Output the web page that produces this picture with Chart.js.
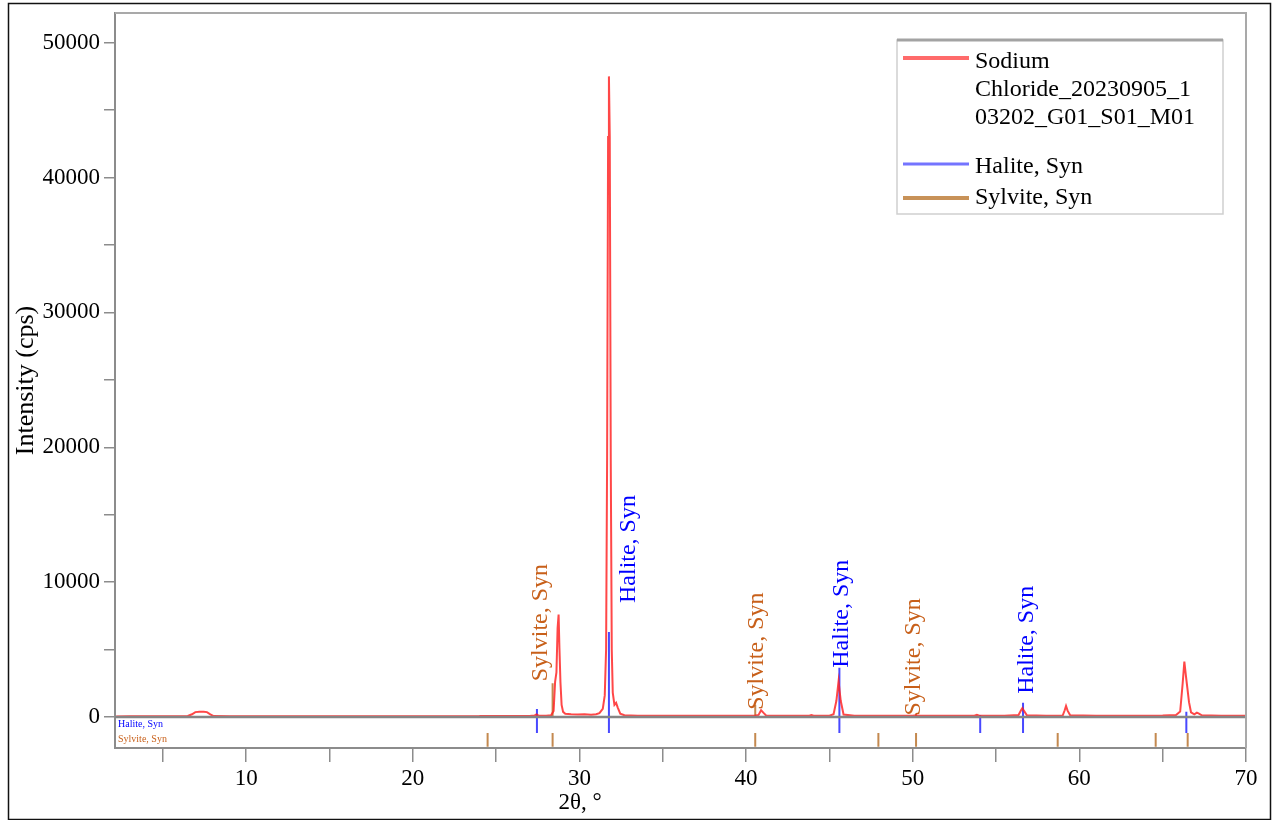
<!DOCTYPE html>
<html>
<head>
<meta charset="utf-8">
<script src="https://cdn.jsdelivr.net/npm/chart.js@4.4.0/dist/chart.umd.min.js"></script>
<style>
  body { margin: 0; background: #fff; }
  canvas { display: block; }
</style>
</head>
<body>
<canvas id="xrd" width="1273" height="820"></canvas>
<script>
"use strict"

// Measured pattern: 2θ (°) and intensity (cps)
const twoTheta = [
    2.2, 3.0, 4.0, 5.0, 6.0, 6.5, 6.75, 6.95, 7.2, 7.45, 7.65, 7.85, 8.05, 9.0, 10.0,
    12.0, 14.0, 16.0, 18.0, 20.0, 22.0, 24.0, 24.5, 25.0, 26.0, 27.0, 27.3, 27.42, 27.55,
    28.0, 28.3, 28.45, 28.54, 28.62, 28.69, 28.75, 28.8, 28.86, 28.93, 29.02, 29.15,
    29.5, 29.9, 30.3, 30.7, 31.0, 31.2, 31.4, 31.52, 31.6, 31.66, 31.72, 31.77, 31.82,
    31.88, 31.94, 32.0, 32.1, 32.2, 32.3, 32.45, 32.7, 33.5, 35.0, 37.0, 39.0, 40.5,
    40.75, 40.9, 41.05, 41.2, 42.0, 43.8, 43.92, 44.05, 45.0, 45.25, 45.42, 45.55, 45.68,
    45.85, 46.5, 48.0, 50.0, 50.2, 50.4, 52.0, 53.7, 53.85, 54.0, 55.5, 56.35, 56.5,
    56.58, 56.68, 56.85, 58.0, 59.0, 59.12, 59.2, 59.3, 59.45, 61.0, 63.0, 65.0, 65.8,
    66.05, 66.2, 66.3, 66.4, 66.48, 66.58, 66.7, 66.9, 67.05, 67.15, 67.35, 68.5, 70.0
];
const intensity = [
    40, 50, 45, 50, 55, 70, 200, 360, 390, 380, 360, 200, 70, 55, 50,
    55, 50, 55, 60, 55, 60, 65, 80, 65, 70, 80, 110, 200, 110,
    90, 120, 450, 2600, 3300, 6600, 7600, 5100, 2600, 900, 380, 240,
    200, 180, 210, 170, 200, 280, 600, 1600, 5000, 19000, 43000, 47500, 43000,
    19000, 5000, 1800, 900, 1050, 700, 250, 130, 100, 90, 85, 90, 95,
    150, 500, 300, 110, 90, 90, 150, 90, 100, 200, 1200, 2650, 1200,
    180, 100, 90, 95, 130, 95, 90, 95, 160, 95, 100, 150, 500,
    650, 450, 130, 100, 110, 500, 820, 450, 120, 100, 100, 110, 150,
    400, 2500, 4100, 3000, 2150, 1100, 350, 200, 320, 260, 120, 100, 95
];

// Reference patterns (stick positions and heights)
const haliteTheta = [27.45, 31.77, 45.6, 54.05, 56.62, 66.42];
const haliteHeight = [600, 6300, 3650, 150, 1050, 380];
const sylviteTheta = [24.49, 28.39, 40.55, 47.94, 50.2, 58.7, 64.58, 66.5];
const sylviteHeight = [60, 2500, 900, 60, 250, 60, 60, 60];

// Peaks that carry a phase label
const labelPhase = ["Sylvite, Syn", "Halite, Syn", "Sylvite, Syn", "Halite, Syn", "Sylvite, Syn", "Halite, Syn"];
const labelTheta = [28.39, 31.77, 40.55, 45.6, 50.2, 56.62];

// Axis ticks
const xTicks = [5, 10, 15, 20, 25, 30, 35, 40, 45, 50, 55, 60, 65, 70];
const yTicks = [0, 5000, 10000, 15000, 20000, 25000, 30000, 35000, 40000, 45000, 50000];

const legendLines = ["Sodium", "Chloride_20230905_1", "03202_G01_S01_M01"];

const SERIF = "'Liberation Serif', 'Times New Roman', serif";
const HALITE_BLUE = "#0000ff";
const SYLVITE_BROWN = "#c8601a";

// rows of the stick panel under the zero line (in cps units of the y scale)
const HALITE_ROW = [0, -1190];
const SYLVITE_ROW = [-1190, -2200];

/**
 * Bygger linjesegment för en stickserie: ovanför nollinjen och i panelen under
 */
function stickPoints(thetas, heights, row) {
    const pts = [];
    thetas.forEach((t, i) => {
        pts.push({ x: t, y: 0 }, { x: t, y: heights[i] }, { x: t, y: null });
        pts.push({ x: t, y: row[0] }, { x: t, y: row[1] }, { x: t, y: null });
    });
    return pts;
}

const curve = twoTheta.map((t, i) => ({ x: t, y: intensity[i] }));

// pixel nudges so the labels clear the big peaks
const labelNudge = [
    { dx: -12, dy: -2 },
    { dx: 20, dy: -29 },
    { dx: 1, dy: 5 },
    { dx: 2, dy: 0 },
    { dx: -2, dy: 2 },
    { dx: 4, dy: -9 }
];

const decorPlugin = {
    id: "decor",
    beforeDraw(chart) {
        const ctx = chart.ctx;
        ctx.save();
        ctx.fillStyle = "#fff";
        ctx.fillRect(0, 0, chart.width, chart.height);
        ctx.restore();
    },
    afterDraw(chart) {
        const ctx = chart.ctx;
        const area = chart.chartArea;
        const xs = chart.scales.x;
        const ys = chart.scales.y;
        ctx.save();

        // nollinjen
        const y0 = ys.getPixelForValue(0);
        ctx.strokeStyle = "#858585";
        ctx.lineWidth = 2.5;
        ctx.beginPath();
        ctx.moveTo(area.left, y0);
        ctx.lineTo(area.right, y0);
        ctx.stroke();

        // top and right frame
        ctx.strokeStyle = "#a9a9a9";
        ctx.lineWidth = 2;
        ctx.beginPath();
        ctx.moveTo(area.left, area.top);
        ctx.lineTo(area.right, area.top);
        ctx.lineTo(area.right, area.bottom);
        ctx.stroke();

        // outer border
        ctx.strokeStyle = "#111";
        ctx.lineWidth = 1.5;
        ctx.strokeRect(8.5, 3.5, 1262, 816);

        // panel row names
        ctx.font = "10px " + SERIF;
        ctx.textAlign = "left";
        ctx.textBaseline = "middle";
        ctx.fillStyle = HALITE_BLUE;
        ctx.fillText("Halite, Syn", area.left + 3, ys.getPixelForValue(-520));
        ctx.fillStyle = SYLVITE_BROWN;
        ctx.fillText("Sylvite, Syn", area.left + 3, ys.getPixelForValue(-1680));

        // rotated phase labels above the sticks
        ctx.font = "24px " + SERIF;
        labelTheta.forEach((t, i) => {
            const isHalite = labelPhase[i].startsWith("Halite");
            const thetas = isHalite ? haliteTheta : sylviteTheta;
            const heights = isHalite ? haliteHeight : sylviteHeight;
            const h = heights[thetas.indexOf(t)];
            const px = xs.getPixelForValue(t) + labelNudge[i].dx;
            const py = ys.getPixelForValue(h) + labelNudge[i].dy;
            ctx.save();
            ctx.translate(px, py);
            ctx.rotate(-Math.PI / 2);
            ctx.fillStyle = isHalite ? HALITE_BLUE : SYLVITE_BROWN;
            ctx.textAlign = "left";
            ctx.textBaseline = "middle";
            ctx.fillText(labelPhase[i], 0, 0);
            ctx.restore();
        });

        // legend box
        const lx = area.right - 349, ly = area.top + 27, lw = 326, lh = 174;
        ctx.strokeStyle = "#cfcfcf";
        ctx.lineWidth = 1.5;
        ctx.strokeRect(lx, ly, lw, lh);
        ctx.strokeStyle = "#a3a3a3";
        ctx.lineWidth = 3;
        ctx.beginPath();
        ctx.moveTo(lx, ly);
        ctx.lineTo(lx + lw, ly);
        ctx.stroke();

        const swatch = (y, color, w) => {
            ctx.strokeStyle = color;
            ctx.lineWidth = w;
            ctx.beginPath();
            ctx.moveTo(lx + 6, y);
            ctx.lineTo(lx + 72, y);
            ctx.stroke();
        };
        swatch(ly + 18, "#ff6b6b", 4);
        swatch(ly + 124, "#7474ff", 3);
        swatch(ly + 158, "#c89258", 4);

        ctx.fillStyle = "#000";
        ctx.font = "24px " + SERIF;
        ctx.textAlign = "left";
        ctx.textBaseline = "middle";
        legendLines.forEach((s, i) => ctx.fillText(s, lx + 78, ly + 22 + i * 28));
        ctx.fillText("Halite, Syn", lx + 78, ly + 127);
        ctx.fillText("Sylvite, Syn", lx + 78, ly + 158);

        // x-axelns titel
        ctx.font = "23px " + SERIF;
        ctx.textAlign = "center";
        ctx.fillText("2θ, °", 580, 803);

        ctx.restore();
    }
};

new Chart(document.getElementById("xrd"), {
    type: "scatter",
    data: {
        datasets: [
            {
                label: legendLines.join(""),
                data: curve,
                showLine: true,
                borderColor: "rgba(255, 30, 30, 0.82)",
                borderWidth: 2,
                pointRadius: 0,
                tension: 0
            },
            {
                label: "Halite, Syn",
                data: stickPoints(haliteTheta, haliteHeight, HALITE_ROW),
                showLine: true,
                spanGaps: false,
                borderColor: "rgba(40, 40, 255, 0.85)",
                borderWidth: 2,
                pointRadius: 0
            },
            {
                label: "Sylvite, Syn",
                data: stickPoints(sylviteTheta, sylviteHeight, SYLVITE_ROW),
                showLine: true,
                spanGaps: false,
                borderColor: "#c4894f",
                borderWidth: 2,
                pointRadius: 0
            }
        ]
    },
    options: {
        responsive: false,
        animation: false,
        devicePixelRatio: 1,
        layout: { padding: { top: 13, right: 27, bottom: 0, left: 0 } },
        plugins: {
            legend: { display: false },
            tooltip: { enabled: false }
        },
        scales: {
            x: {
                type: "linear",
                min: 2.13,
                max: 70,
                afterBuildTicks: scale => { scale.ticks = xTicks.map(v => ({ value: v })); },
                afterFit: scale => {
                    scale.height = 72;
                    scale.paddingLeft = 0;
                    scale.paddingRight = 0;
                },
                ticks: {
                    autoSkip: false,
                    maxRotation: 0,
                    padding: 3,
                    color: "#000",
                    font: { family: SERIF, size: 23 },
                    callback: v => (v % 10 === 0 ? v : "")
                },
                grid: {
                    drawOnChartArea: false,
                    tickLength: 14,
                    color: "#8c8c8c",
                    lineWidth: 1.5
                },
                border: { display: true, color: "#8c8c8c", width: 2 }
            },
            y: {
                type: "linear",
                min: -2300,
                max: 52200,
                afterBuildTicks: scale => { scale.ticks = yTicks.map(v => ({ value: v })); },
                afterFit: scale => {
                    scale.width = 115;
                    scale.paddingTop = 0;
                    scale.paddingBottom = 0;
                },
                ticks: {
                    padding: 4,
                    color: "#000",
                    font: { family: SERIF, size: 23 },
                    callback: v => (v % 10000 === 0 ? v : "")
                },
                grid: {
                    drawOnChartArea: false,
                    tickLength: 11,
                    color: "#8c8c8c",
                    lineWidth: 1.5
                },
                border: { display: true, color: "#8c8c8c", width: 2 },
                title: {
                    display: true,
                    text: "Intensity (cps)",
                    color: "#000",
                    font: { family: SERIF, size: 26 },
                    padding: { top: 11, bottom: 0 }
                }
            }
        }
    },
    plugins: [decorPlugin]
});
</script>
</body>
</html>
